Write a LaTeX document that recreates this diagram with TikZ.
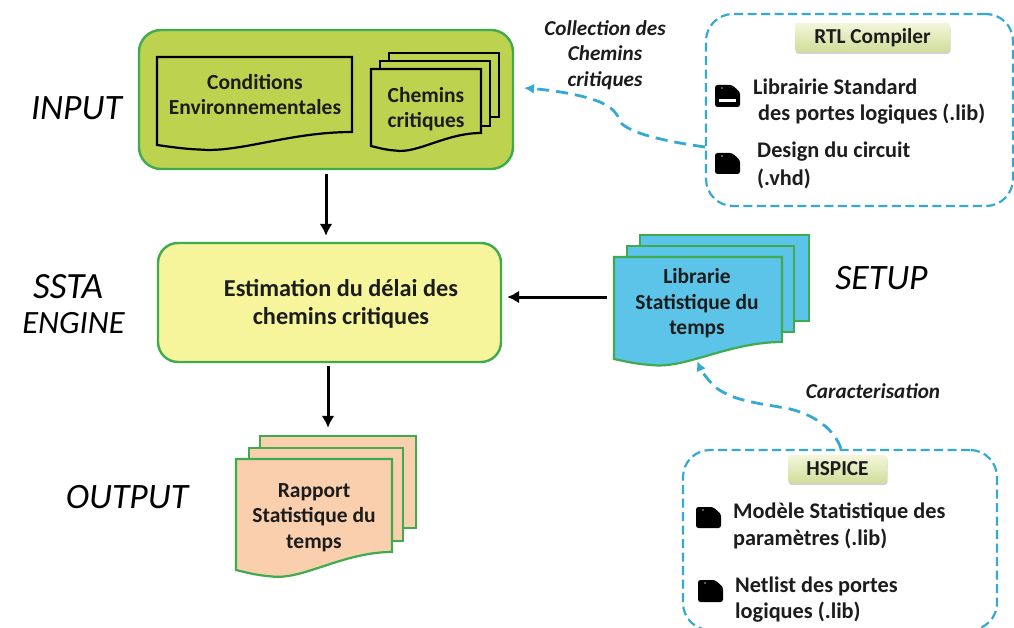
\documentclass[tikz,border=0pt]{standalone}
\usepackage{fontspec}
\setmainfont{Carlito}
\usetikzlibrary{arrows.meta,shadows}
\definecolor{bordergreen}{HTML}{3FAA4E}
\definecolor{inputfill}{HTML}{BDD34F}
\definecolor{estfill}{HTML}{F6F59B}
\definecolor{libfill}{HTML}{5CC4E8}
\definecolor{repfill}{HTML}{F9CFAE}
\definecolor{dashblue}{HTML}{35A9D3}
\definecolor{inkdark}{HTML}{1C1C1C}
\definecolor{F3tag}{HTML}{F4F6DC}
\definecolor{Btag}{HTML}{CFDD98}
\tikzset{
  x=1pt,y=-1pt,
  sheet/.style={line width=2.2pt,line join=miter},
  labeltext/.style={font=\fontsize{21.5}{25.5}\selectfont\bfseries,text=inkdark,align=center,inner sep=0pt},
  listtext/.style={font=\fontsize{22.3}{26.5}\selectfont\bfseries,text=inkdark,align=left,inner sep=0pt,anchor=west},
  stagetext/.style={font=\fontsize{35.7}{36}\selectfont\itshape,text=black,inner sep=0pt},
  notetext/.style={font=\fontsize{21.2}{25.5}\selectfont\bfseries\itshape,text=inkdark,align=center,inner sep=0pt},
  toolbox/.style={draw=dashblue,line width=2.2pt,dash pattern=on 9pt off 4.5pt,rounded corners=27pt,inner sep=0pt},
  toolarrow/.style={draw=dashblue,line width=2.8pt,dash pattern=on 12pt off 7pt,-{Latex[length=10pt,width=10pt]}},
  flowarrow/.style={draw=black,line width=3pt,-{Latex[length=12pt,width=13pt]}},
  tooltag/.style={rounded corners=3pt,top color=F3tag,bottom color=Btag,drop shadow={shadow xshift=0.5pt,shadow yshift=-2pt,opacity=.35,fill=gray},inner sep=0pt,font=\fontsize{21.3}{24}\selectfont\bfseries,text=inkdark},
}
% x0, x1, top, right bottom, left bottom, draw colour, fill colour
\newcommand{\onesheet}[7]{%
  \path[sheet,draw=#6,fill=#7] (#1,#3) -- (#2,#3) -- (#2,#4)
    .. controls ({#1+0.68*(#2-#1)},#4) and ({#1+0.42*(#2-#1)},{#5+0.62*(#5-#4)}) .. ({#1+0.22*(#2-#1)},{#5+0.35*(#5-#4)})
    .. controls ({#1+0.13*(#2-#1)},{#5+0.3*(#5-#4)}) and ({#1+0.05*(#2-#1)},{#5+0.1*(#5-#4)}) .. (#1,#5) -- cycle;}
\newcommand{\plainsheet}[6]{%
  \path[sheet,draw=#5,fill=#6] (#1,#3) -- (#2,#3) -- (#2,#4) -- (#1,#4) -- cycle;}
\newcommand{\docicon}[4]{%
  \fill[black,rounded corners=2.5pt] (#1,#2) -- ({#1+#3-8},#2) -- ({#1+#3},{#2+7}) -- ({#1+#3},{#2+#4}) -- (#1,{#2+#4}) -- cycle;
  \fill[gray!60] ({#1+7},{#2+3}) circle (0.8pt);}
\begin{document}
\begin{tikzpicture}
\useasboundingbox (0,0) rectangle (1014,628);
\fill[white] (0,0) rectangle (1014,628);

% main boxes
\node[draw=bordergreen,fill=inputfill,line width=2.4pt,rounded corners=22pt,minimum width=374pt,minimum height=139pt,inner sep=0pt] (inputbox) at (326,99.5) {};
\node[draw=bordergreen,fill=estfill,line width=2.4pt,rounded corners=20pt,minimum width=343pt,minimum height=119pt,inner sep=0pt] (estbox) at (329.5,302.5) {};

% Conditions document
\onesheet{157}{352}{57}{132}{145}{black}{inputfill}
\node[labeltext] (cond) at (255,94.5) {Conditions\\Environnementales};

% Chemins stack
\plainsheet{389}{499}{53}{117}{black}{inputfill}
\plainsheet{380}{490}{61}{126}{black}{inputfill}
\onesheet{371}{481}{69}{133}{146}{black}{inputfill}
\node[labeltext] (chem) at (426,109) {Chemins\\critiques};

% Estimation
\node[font=\fontsize{24.3}{28}\selectfont\bfseries,text=inkdark,align=center,inner sep=0pt] (esttext) at (341,304) {Estimation du délai des\\chemins critiques};

% Library stack
\plainsheet{640}{809}{235}{321}{bordergreen}{libfill}
\plainsheet{627}{794}{246}{332}{bordergreen}{libfill}
\onesheet{614}{782}{257}{342}{359}{bordergreen}{libfill}
\node[inner sep=0pt,minimum width=195pt,minimum height=124pt] (libstack) at (711.5,297) {};
\node[labeltext] (libtext) at (697,303.5) {Librarie\\Statistique du\\temps};

% Report stack
\plainsheet{260}{416}{436}{528}{bordergreen}{repfill}
\plainsheet{249}{403}{448}{541}{bordergreen}{repfill}
\onesheet{236}{392}{459}{552}{570}{bordergreen}{repfill}
\node[inner sep=0pt,minimum width=180pt,minimum height=134pt] (repstack) at (326,503) {};
\node[labeltext] (reptext) at (314,517.5) {Rapport\\Statistique du\\temps};

% stage labels
\node[stagetext] (lin) at (76.5,108) {INPUT};
\node[stagetext,font=\fontsize{37}{36}\selectfont\itshape] (lssta) at (68,287) {SSTA};
\node[stagetext,font=\fontsize{32.5}{36}\selectfont\itshape] (lengine) at (73.5,323) {ENGINE};
\node[stagetext] (lset) at (881.5,278) {SETUP};
\node[stagetext] (lout) at (127,497) {OUTPUT};

% RTL Compiler panel
\node[toolbox,minimum width=307pt,minimum height=192pt] (rtl) at (859.5,110) {};
\node[tooltag,minimum width=155pt,minimum height=29pt] (rtltag) at (872.5,37.5) {RTL Compiler};
\docicon{715}{85}{25}{22}
\fill[white] (719,99) rectangle (736,102);
\docicon{715}{153}{25}{21}
\node[listtext] (rtla) at (753,87) {Librairie Standard};
\node[listtext] (rtlb) at (758,114) {des portes logiques (.lib)};
\node[listtext] (rtlc) at (757,152) {Design du circuit};
\node[listtext] (rtld) at (757,179) {(.vhd)};

% HSPICE panel
\node[toolbox,minimum width=314pt,minimum height=180pt] (hsp) at (840,540) {};
\node[tooltag,minimum width=99pt,minimum height=28pt] (hsptag) at (837.5,469) {HSPICE};
\docicon{696}{507}{25}{21}
\docicon{698}{580}{25}{22}
\node[listtext] (hspa) at (733,512) {Modèle Statistique des};
\node[listtext] (hspb) at (733,539) {paramètres (.lib)};
\node[listtext] (hspc) at (735,586) {Netlist des portes};
\node[listtext] (hspd) at (735,612) {logiques (.lib)};

% notes
\node[notetext] (note1) at (605,55) {Collection des\\Chemins\\critiques};
\node[notetext] (note2) at (873,391) {Caracterisation};

% connectors
\draw[flowarrow,shorten >=6pt,shorten <=4pt] (inputbox.south) -- (inputbox.south |- estbox.north);
\draw[flowarrow,shorten >=8pt,shorten <=3pt] ([xshift=-1.5pt]estbox.south) -- ([xshift=-1.5pt]estbox.south |- repstack.north);
\draw[flowarrow,shorten >=5pt,shorten <=7pt] (libstack.west) -- (estbox.east |- libstack.west);
\draw[toolarrow] ([yshift=-37pt]rtl.west)
  .. controls (670,142) and (635,135) .. (622,124)
  .. controls (615,110) and (612,108) .. (600,102)
  .. controls (580,94) and (550,90) .. (524,88);
\draw[toolarrow] ([xshift=1pt]hsp.north)
  .. controls (835,430) and (815,415) .. (790,409)
  .. controls (760,403) and (735,402) .. (715,387)
  .. controls (706,378) and (701,370) .. (697,361);
\end{tikzpicture}
\end{document}
